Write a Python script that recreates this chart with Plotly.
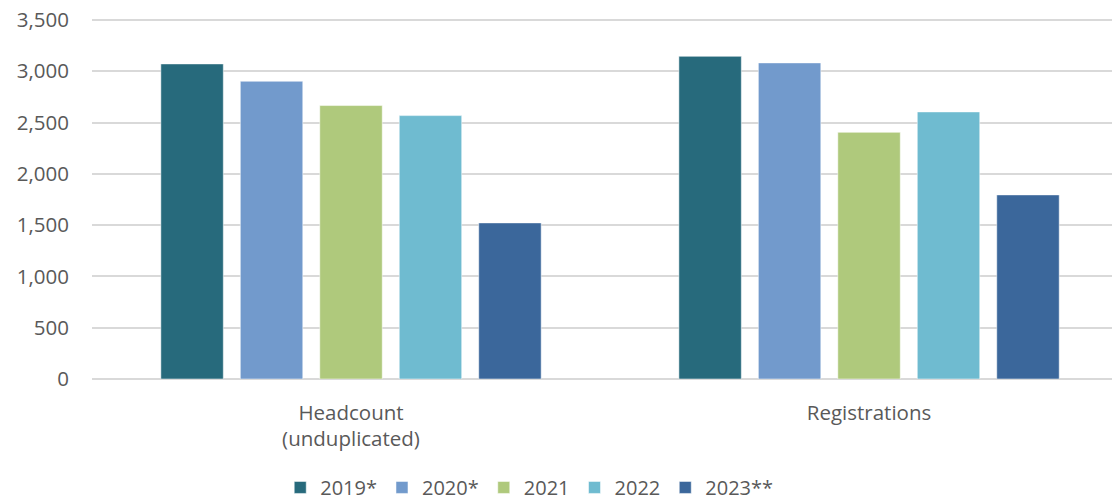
import plotly.graph_objects as go

categories = ["Headcount<br>(unduplicated)", "Registrations"]
series_names = ["2019*", "2020*", "2021", "2022", "2023**"]
values_2019 = [3072, 3146]
values_2020 = [2903, 3082]
values_2021 = [2666, 2405]
values_2022 = [2568, 2604]
values_2023 = [1522, 1795]
colors = ["#276A7C", "#729ACC", "#AFC97C", "#6FBBD0", "#3B679B"]
y_ticks = [0, 500, 1000, 1500, 2000, 2500, 3000, 3500]

series_values = [values_2019, values_2020, values_2021, values_2022, values_2023]

fig = go.Figure()
for name, vals, col in zip(series_names, series_values, colors):
    fig.add_trace(go.Bar(
        x=categories, y=vals, name=name,
        marker=dict(color=col, line=dict(color="rgba(255,255,255,0.5)", width=1)),
    ))

font_family = "Open Sans, Liberation Sans, sans-serif"
fig.update_layout(
    width=1112, height=502,
    margin=dict(l=92, r=0, t=19, b=123, autoexpand=False),
    paper_bgcolor="white", plot_bgcolor="white",
    barmode="group", bargap=0.233, bargroupgap=0.214,
    font=dict(family=font_family, size=20, color="#595959"),
    showlegend=True,
    legend=dict(orientation="h", x=0.252, xanchor="left", xref="container",
                y=0.029, yanchor="middle", yref="container",
                font=dict(size=20, color="#595959"), itemclick=False,
                traceorder="normal", tracegroupgap=0),
    xaxis=dict(range=[-0.5, 1.469], showgrid=False, showline=False, ticks="",
               automargin=False, ticklabelstandoff=19,
               tickfont=dict(size=20.5, color="#595959")),
    yaxis=dict(range=[0, 3510], tickmode="array", tickvals=y_ticks,
               tickformat=",d", showgrid=True, ticklabeloverflow="allow",
               gridcolor="#d9d9d9", gridwidth=1.5, zeroline=True,
               zerolinecolor="#d9d9d9", zerolinewidth=1.5, showline=False,
               ticks="", ticklabelstandoff=22, automargin=False,
               tickfont=dict(size=20.5, color="#595959")),
)

fig.write_html("out.html", config={"displayModeBar": False},
               post_script="document.body.style.margin='0';")
